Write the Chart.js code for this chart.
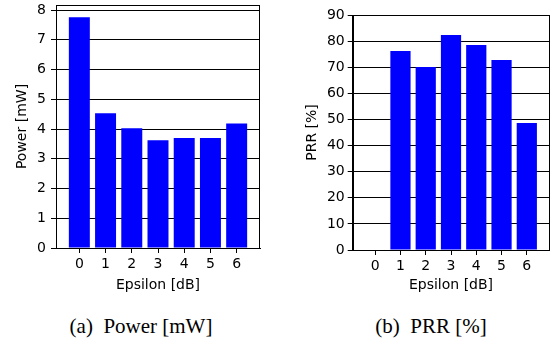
<!DOCTYPE html>
<html>
<head>
<meta charset="utf-8">
<script src="https://cdn.jsdelivr.net/npm/chart.js@4.4.1/dist/chart.umd.min.js"></script>
<style>
  html, body { margin: 0; padding: 0; background: #fff; }
  body { width: 552px; height: 345px; position: relative; overflow: hidden; }
  .wrap { position: absolute; top: 0; }
  .cap { position: absolute; font-family: "Liberation Serif", serif; font-size: 21px; color: #000; white-space: pre; transform: translate(-50%, -50%); }
</style>
</head>
<body>
<div class="wrap" id="w1" style="left:0;width:276px;height:300px;"><canvas id="c1" width="276" height="300"></canvas></div>
<div class="wrap" id="w2" style="left:280px;width:272px;height:300px;"><canvas id="c2" width="272" height="300"></canvas></div>
<div class="cap" style="left:141px;top:326px;">(a)  Power [mW]</div>
<div class="cap" style="left:431px;top:326px;">(b)  PRR [%]</div>
<script>
const categories = ['0', '1', '2', '3', '4', '5', '6'];
const powerValues = [7.76, 4.53, 4.03, 3.62, 3.70, 3.70, 4.19];
const prrValues = [0, 76.2, 70.1, 82.3, 78.5, 72.8, 48.6];
const powerTicks = [0, 1, 2, 3, 4, 5, 6, 7, 8];
const prrTicks = [0, 10, 20, 30, 40, 50, 60, 70, 80, 90];
const xLabel = 'Epsilon [dB]';
const powerLabel = 'Power [mW]';
const prrLabel = 'PRR [%]';

const FONT = { family: 'DejaVu Sans', size: 14 };
Chart.defaults.color = '#000';
Chart.defaults.font.family = 'DejaVu Sans';
Chart.defaults.font.size = 14;

const boxPlugin = {
  id: 'box',
  afterDraw(chart) {
    const a = chart.chartArea, ctx = chart.ctx;
    ctx.save();
    ctx.strokeStyle = '#000';
    ctx.lineWidth = 1;
    ctx.strokeRect(Math.round(a.left) + 0.5, Math.round(a.top) + 0.5, Math.round(a.right - a.left) - 1, Math.round(a.bottom - a.top));
    ctx.restore();
  }
};

function makeChart(id, values, yTicks, yMax, yTitle, opts) {
  const xs = categories.map(Number);
  return new Chart(document.getElementById(id), {
    type: 'bar',
    data: {
      datasets: [{
        data: xs.map((x, i) => ({ x: x, y: values[i] })),
        backgroundColor: '#0000ff',
        borderWidth: 0,
        categoryPercentage: 0.8,
        barPercentage: 1.0
      }]
    },
    options: {
      responsive: false,
      animation: false,
      devicePixelRatio: 1,
      layout: { padding: { left: 0, top: opts.top, right: opts.right, bottom: 0 } },
      plugins: { legend: { display: false }, tooltip: { enabled: false } },
      scales: {
        x: {
          type: 'linear',
          offset: false,
          min: -0.89, max: xs.length - 1 + 0.89,
          z: 1,
          grid: { offset: false, drawOnChartArea: false, drawTicks: true, tickLength: 5, color: '#000', tickWidth: 1 },
          border: { color: '#000', width: 1 },
          ticks: { font: FONT, padding: 3, maxRotation: 0, autoSkip: false,
                   callback: (v) => { const i = xs.indexOf(v); return i >= 0 ? categories[i] : ''; } },
          afterBuildTicks: (s) => { s.ticks = xs.map(v => ({ value: v })); },
          afterFit: (s) => { s.height = opts.xh; s.paddingLeft = 0; s.paddingRight = 0; },
          title: { display: true, text: xLabel, font: FONT, padding: { top: 0, bottom: 6.6 } }
        },
        y: {
          min: 0, max: yMax,
          z: 1,
          grid: { drawOnChartArea: true, drawTicks: true, tickLength: 5, color: '#000', lineWidth: 1 },
          border: { color: '#000', width: 1 },
          ticks: { font: FONT, padding: opts.ypad, autoSkip: false },
          afterBuildTicks: (s) => { s.ticks = yTicks.map(v => ({ value: v })); },
          afterFit: (s) => { s.width = opts.yw; s.paddingTop = 0; s.paddingBottom = 0; },
          title: { display: true, text: yTitle, font: FONT, padding: { top: opts.tpad, bottom: 0 } }
        }
      }
    },
    plugins: [boxPlugin]
  });
}

makeChart('c1', powerValues, powerTicks, 8.17, powerLabel, { top: 5, right: 16, xh: 52, yw: 56, ypad: 5, tpad: 13.6 });
makeChart('c2', prrValues, prrTicks, 90, prrLabel, { top: 15, right: 2.7, xh: 50, yw: 72.7, ypad: 3, tpad: 23.6 });
</script>
</body>
</html>
